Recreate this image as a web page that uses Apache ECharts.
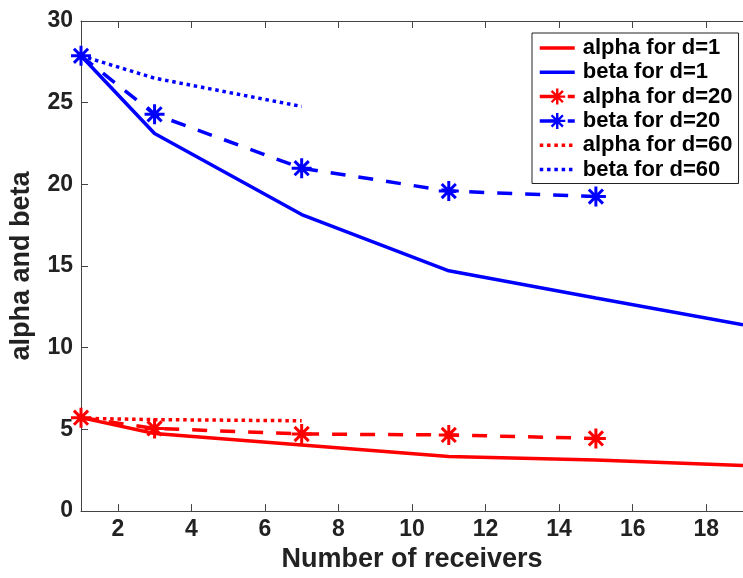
<!DOCTYPE html>
<html>
<head>
<meta charset="utf-8">
<script src="https://cdn.jsdelivr.net/npm/echarts@6/dist/echarts.min.js"></script>
<style>
  html, body { margin: 0; padding: 0; background: #fff; }
  #chart { width: 743px; height: 578px; }
</style>
</head>
<body>
<div id="chart"></div>
<script>
// Number of receivers for each distance setting
const receiversD1 = [1, 3, 7, 11, 15, 19];
const receiversD20 = [1, 3, 7, 11, 15];
const receiversD60 = [1, 3, 7];

// alpha / beta values per distance
const alphaD1 = [5.72, 4.75, 4.05, 3.34, 3.13, 2.79];
const betaD1 = [27.87, 23.11, 18.15, 14.71, 13.05, 11.41];
const alphaD20 = [5.72, 5.06, 4.72, 4.66, 4.45];
const betaD20 = [27.87, 24.29, 20.99, 19.59, 19.25];
const alphaD60 = [5.68, 5.6, 5.53];
const betaD60 = [27.87, 26.5, 24.77];

const xTicks = [2, 4, 6, 8, 10, 12, 14, 16, 18];
const seriesNames = ['alpha for d=1', 'beta for d=1', 'alpha for d=20',
                     'beta for d=20', 'alpha for d=60', 'beta for d=60'];

const RED = '#ff0000';
const BLUE = '#0000ff';
const FONT = 'Liberation Sans';

// asterisk marker built from four bars of equal length
const ASTERISK = 'path://' +
  'M8.5 0L11.5 0L11.5 20L8.5 20Z' +
  'M0 8.5L20 8.5L20 11.5L0 11.5Z' +
  'M4 1.86L18.14 16L16 18.14L1.86 4Z' +
  'M16 1.86L18.14 4L4 18.14L1.86 16Z';

const pairs = (xs, ys) => xs.map((x, i) => [x, ys[i]]);

function lineSeries(name, xs, ys, color, type, withMarker) {
  return {
    name: name,
    type: 'line',
    data: pairs(xs, ys),
    color: color,
    symbol: withMarker ? ASTERISK : 'none',
    symbolSize: 20,
    showSymbol: withMarker,
    itemStyle: { color: color },
    lineStyle: { color: color, width: 3.5, type: type, cap: 'butt' },
    emphasis: { disabled: true },
    animation: false,
    z: 3
  };
}

// legend entries: plain-line series show no marker in their key
const legendData = seriesNames.map((name, i) => {
  const hasMarker = (i === 2 || i === 3);
  return hasMarker ? { name: name } : { name: name, itemStyle: { opacity: 0 } };
});

const axisColor = '#444';
const tickLabel = { fontFamily: FONT, fontWeight: 'bold', fontSize: 23, color: '#222' };

const chart = echarts.init(document.getElementById('chart'), null, { renderer: 'canvas' });
chart.setOption({
  backgroundColor: '#fff',
  animation: false,
  grid: { left: 80, top: 21, right: -9, bottom: 63, containLabel: false },
  legend: {
    data: legendData,
    orient: 'vertical',
    left: 532,
    top: 33,
    padding: [4, 6, 3, 6],
    itemWidth: 35,
    itemHeight: 20,
    itemGap: 2.3,
    backgroundColor: '#fff',
    borderColor: '#222',
    borderWidth: 1,
    borderRadius: 0,
    selectedMode: false,
    lineStyle: { width: 3.5 },
    textStyle: { fontFamily: FONT, fontWeight: 'bold', fontSize: 22, color: '#000', padding: [0, 0, 0, 3] }
  },
  xAxis: [{
    type: 'value',
    min: 1,
    max: 19,
    name: 'Number of receivers',
    nameLocation: 'middle',
    nameGap: 32,
    nameTextStyle: { fontFamily: FONT, fontWeight: 'bold', fontSize: 27, color: '#222' },
    axisLine: { show: true, onZero: false, lineStyle: { color: axisColor, width: 1 } },
    axisTick: { show: true, inside: true, length: 7, customValues: xTicks, lineStyle: { color: axisColor } },
    axisLabel: Object.assign({ margin: 7, customValues: xTicks }, tickLabel),
    splitLine: { show: false }
  }, {
    type: 'value',
    position: 'top',
    min: 1,
    max: 19,
    axisLine: { show: true, onZero: false, lineStyle: { color: axisColor, width: 1 } },
    axisTick: { show: true, inside: true, length: 7, customValues: xTicks, lineStyle: { color: axisColor } },
    axisLabel: { show: false },
    splitLine: { show: false }
  }],
  yAxis: {
    type: 'value',
    min: 0,
    max: 30,
    interval: 5,
    name: 'alpha and beta',
    nameLocation: 'middle',
    nameGap: 46,
    nameTextStyle: { fontFamily: FONT, fontWeight: 'bold', fontSize: 27, color: '#222' },
    axisLine: { show: true, onZero: false, lineStyle: { color: axisColor, width: 1 } },
    axisTick: { show: true, inside: true, length: 7, lineStyle: { color: axisColor } },
    axisLabel: Object.assign({ margin: 8 }, tickLabel),
    splitLine: { show: false }
  },
  series: [
    lineSeries(seriesNames[0], receiversD1, alphaD1, RED, 'solid', false),
    lineSeries(seriesNames[1], receiversD1, betaD1, BLUE, 'solid', false),
    lineSeries(seriesNames[2], receiversD20, alphaD20, RED, [15, 13], true),
    lineSeries(seriesNames[3], receiversD20, betaD20, BLUE, [15, 13], true),
    lineSeries(seriesNames[4], receiversD60, alphaD60, RED, [3.5, 3.8], false),
    lineSeries(seriesNames[5], receiversD60, betaD60, BLUE, [3.5, 3.8], false)
  ]
});
</script>
</body>
</html>
